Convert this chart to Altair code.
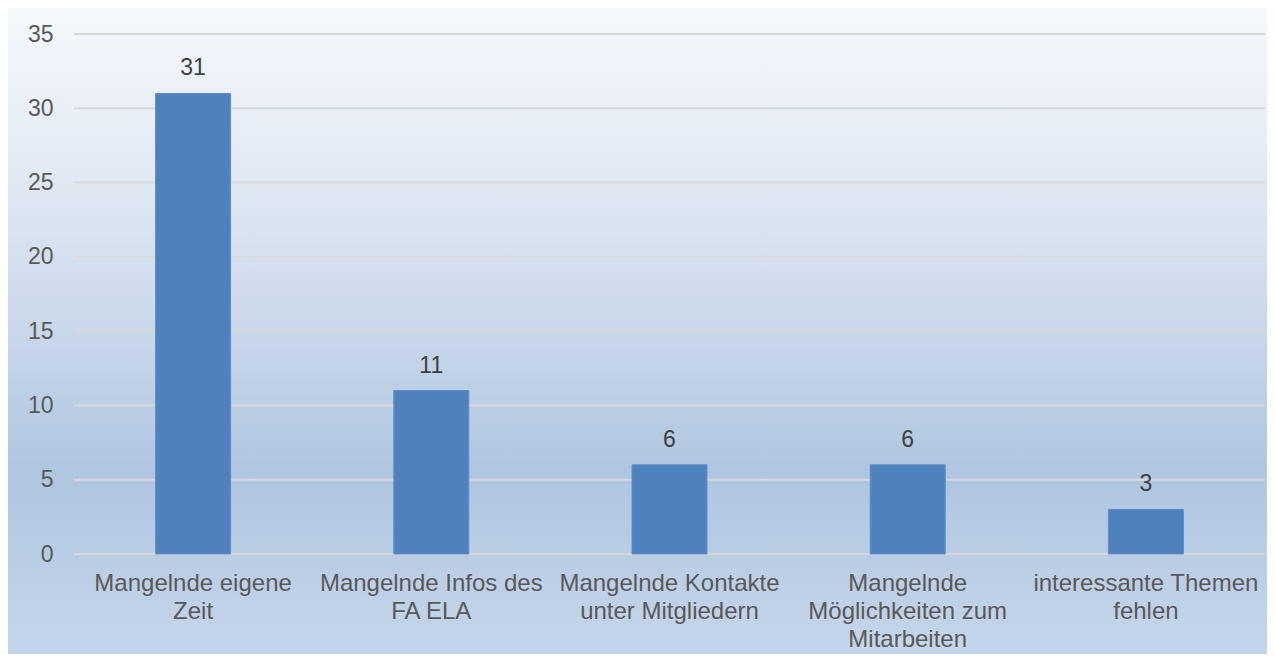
import altair as alt
import pandas as pd

categories = [
    "Mangelnde eigene|Zeit",
    "Mangelnde Infos des|FA ELA",
    "Mangelnde Kontakte|unter Mitgliedern",
    "Mangelnde|Möglichkeiten zum|Mitarbeiten",
    "interessante Themen|fehlen",
]
values = [31, 11, 6, 6, 3]
y_ticks = [0, 5, 10, 15, 20, 25, 30, 35]

df = pd.DataFrame({"cat": categories, "val": values})
grid_df = pd.DataFrame({"t": y_ticks})

W, H = 1191, 520
PAD_L, PAD_T, PAD_R, PAD_B = 66, 26, 2, 100
FONT = "Liberation Sans"

x_enc = alt.X("cat:N", sort=None, scale=alt.Scale(paddingInner=0, paddingOuter=0),
              axis=alt.Axis(title=None, labelAngle=0, domain=False, ticks=False, grid=False,
                            labelExpr="split(datum.label, '|')", zindex=2,
                            labelFont=FONT, labelFontSize=24, labelColor="#595959",
                            labelPadding=17, labelLineHeight=28, labelLimit=300,
                            labelBaseline="top"))
y_scale = alt.Scale(domain=[0, 35], nice=False)
y_enc = alt.Y("val:Q", scale=y_scale,
              axis=alt.Axis(title=None, values=y_ticks, domain=False, ticks=False, grid=False,
                            zindex=2,
                            labelFont=FONT, labelFontSize=23, labelColor="#595959",
                            labelPadding=21))

bg = alt.Chart(pd.DataFrame({"a": [0]})).mark_rect(
    color=alt.LinearGradient(
        gradient="linear", x1=0, y1=0, x2=0, y2=1,
        stops=[
            alt.GradientStop(offset=0, color="#f5f8fc"),
            alt.GradientStop(offset=0.2, color="#e7edf6"),
            alt.GradientStop(offset=0.5, color="#c9d7ea"),
            alt.GradientStop(offset=0.72, color="#afc5e0"),
            alt.GradientStop(offset=1, color="#c6d6ea"),
        ],
    )
).encode(x=alt.value(-PAD_L), x2=alt.value(W + PAD_R),
         y=alt.value(-PAD_T), y2=alt.value(H + PAD_B))

grid = alt.Chart(grid_df).mark_rule(color="#d9d9d9", strokeWidth=2).encode(
    y=alt.Y("t:Q", scale=y_scale), x=alt.value(0), x2=alt.value(W))

bars = alt.Chart(df).mark_bar(size=75, color="#4f81bd", stroke="#5f8fc8", strokeWidth=1).encode(
    x=x_enc, y=y_enc)

labels = alt.Chart(df).mark_text(dy=-25, font=FONT, fontSize=23, color="#404040").encode(
    x=alt.X("cat:N", sort=None), y="val:Q", text="val:Q")

chart = alt.layer(bg, grid, bars, labels).properties(
    width=W, height=H,
    autosize=alt.AutoSizeParams(type="none"),
    padding={"left": PAD_L, "top": PAD_T, "right": PAD_R, "bottom": PAD_B},
    background="#c6d6ea",
).configure_view(stroke=None)

chart.save("out.html", embed_options={"renderer": "svg", "actions": False})
